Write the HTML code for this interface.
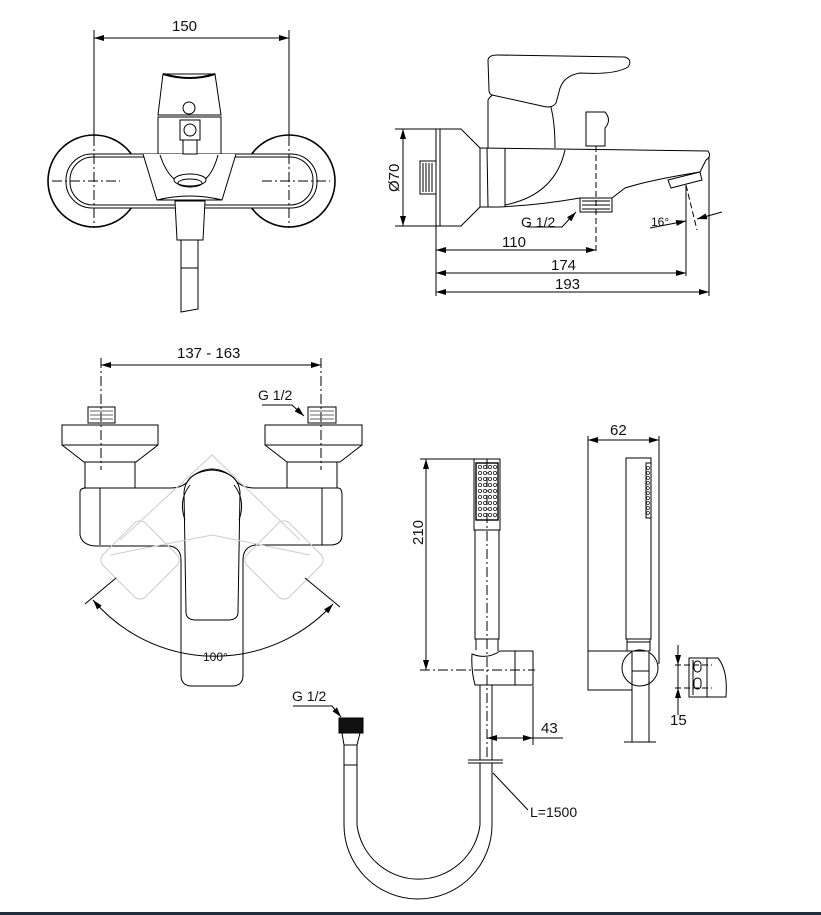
<!DOCTYPE html>
<html><head><meta charset="utf-8"><style>
html,body{margin:0;padding:0;background:#fff}
svg{display:block}
text{font-family:"Liberation Sans",sans-serif;fill:#111}
</style></head><body>
<svg width="821" height="915" viewBox="0 0 821 915" xmlns="http://www.w3.org/2000/svg">
<defs>
<marker id="a" viewBox="0 0 10 6" refX="10" refY="3" markerWidth="10" markerHeight="6" orient="auto-start-reverse" markerUnits="userSpaceOnUse"><path d="M0,0L10,3L0,6z" fill="#000"/></marker>
</defs>
<g fill="none" stroke="#000" stroke-width="1">
<line x1="94" y1="30" x2="94" y2="136"/><line x1="289" y1="30" x2="289" y2="136"/>
<line x1="94" y1="38" x2="289" y2="38" marker-start="url(#a)" marker-end="url(#a)"/>
<circle cx="94" cy="181" r="46" stroke-width="1.6"/>
<circle cx="289" cy="181" r="46" stroke-width="1.6"/>
<rect x="66" y="154" width="251" height="54" rx="26" fill="#fff"/>
<rect x="70" y="157" width="243" height="48" rx="23"/>
<path d="M143,154 L157,200 L222,200 L236,154" fill="#fff"/>
<path d="M160,155 Q170,185 190,185 Q210,185 218,155"/>
<path d="M157,200 Q190,192 222,200"/>
<ellipse cx="190" cy="180" rx="16" ry="6" fill="#fff"/><ellipse cx="190" cy="183" rx="12" ry="4"/>
<path d="M158,154 L158,117 L221,117 L221,154"/>
<path d="M158,115 L163,74 L215,74 L221,115 Z" fill="#fff"/>
<path d="M163,74 Q190,82 215,74" stroke-width="2"/>
<circle cx="189" cy="108" r="6"/>
<rect x="180" y="120" width="20" height="20"/><circle cx="190" cy="130" r="6"/>
<rect x="183" y="140" width="14" height="14"/>
<path d="M175,201 L205,201 L203,240 L177,240 Z" fill="#fff"/>
<path d="M181,240 L181,312 L198,309 L198,240"/>
<line x1="181" y1="268" x2="198" y2="268"/>
<g stroke-dasharray="10,3,2,3"><line x1="94" y1="136" x2="94" y2="228"/><line x1="289" y1="136" x2="289" y2="228"/>
<line x1="52" y1="181" x2="120" y2="181"/><line x1="262" y1="181" x2="330" y2="181"/></g>

<line x1="395" y1="129" x2="440" y2="129"/><line x1="395" y1="226" x2="440" y2="226"/>
<line x1="403" y1="129" x2="403" y2="226" marker-start="url(#a)" marker-end="url(#a)"/>

<rect x="420" y="161" width="16" height="33"/>
<path d="M423,163 L423,192 M426,163 L426,192 M429,163 L429,192 M432,163 L432,192"/>
<path d="M436,129 L461,129 L480,148 L480,207 L461,226 L436,226 Z"/>
<line x1="440" y1="129" x2="440" y2="226"/>
<path d="M480,148 L708,151 Q712,156 706,160 L700,172 Q650,180 625,188 L612,198 L580,198 Q540,205 500,207 L480,207"/>
<path d="M487,148 L488,207 M505,148 L505,207"/>
<path d="M565,150 Q555,195 505,205"/>
<path d="M488,148 L488,100 Q495,88 510,96 L550,104 Q555,120 555,148"/>
<path d="M488,60 Q489,55 497,55 L625,57 Q633,60 628,67 Q615,75 580,73 Q562,76 559,92 L556,103 Q552,109 542,106 L492,95 Q489,94 489,90 Z" fill="#fff"/>
<path d="M586,112 L605,112 Q612,120 605,128 L605,146 L586,146 Z"/>
<rect x="580" y="198" width="32" height="14"/>
<path d="M582,201 L610,201 M582,205 L610,205 M582,209 L610,209"/>
<path d="M668,180 L700,172 L702,180 L671,188 Z"/>
<line x1="436" y1="226" x2="436" y2="296"/>
<line x1="596" y1="146" x2="596" y2="252" stroke-dasharray="6,3"/>
<line x1="686" y1="185" x2="686" y2="276"/>
<line x1="709" y1="157" x2="709" y2="296"/>
<line x1="686" y1="185" x2="697" y2="230" stroke-dasharray="6,3"/>
<line x1="436" y1="250" x2="596" y2="250" marker-start="url(#a)" marker-end="url(#a)"/>
<line x1="436" y1="273" x2="686" y2="273" marker-start="url(#a)" marker-end="url(#a)"/>
<line x1="436" y1="292" x2="709" y2="292" marker-start="url(#a)" marker-end="url(#a)"/>
<path d="M527,227 L562,227 L576,212" marker-end="url(#a)"/>
<path d="M650,228 L686,221" marker-end="url(#a)"/>
<line x1="722" y1="212" x2="697" y2="219" marker-end="url(#a)"/>

<line x1="101" y1="365" x2="321" y2="365" marker-start="url(#a)" marker-end="url(#a)"/>
<line x1="101" y1="358" x2="101" y2="470" stroke-dasharray="10,3,2,3"/>
<line x1="321" y1="358" x2="321" y2="470" stroke-dasharray="10,3,2,3"/>
<rect x="88" y="407" width="27" height="16"/><rect x="308" y="407" width="28" height="16"/>
<path d="M90,411H113M90,415H113M90,419H113M310,411H334M310,415H334M310,419H334" stroke="#666"/>
<path d="M62,425 L158,425 L158,445 L136,462 L84,462 L62,445 Z"/>
<line x1="62" y1="445" x2="158" y2="445"/>
<path d="M265,425 L362,425 L362,445 L340,462 L287,462 L265,445 Z"/>
<line x1="265" y1="445" x2="362" y2="445"/>
<path d="M85,462 L85,488 M135,462 L135,488 M287,462 L287,488 M337,462 L337,488"/>
<path d="M84,488 L170,488 Q185,488 190,478 Q212,460 234,478 Q240,488 255,488 L338,488 Q342,488 342,495 L342,535 Q342,545 330,545 L255,545 Q243,547 243,560"/>
<path d="M80,492 Q80,488 86,488 M80,492 L80,535 Q82,545 95,546 L170,546 Q181,548 181,560"/>
<path d="M100,488 L100,545 M322,488 L322,545"/>
<path d="M181,560 L181,675 Q181,686 192,686 L232,686 Q243,686 243,675 L243,560"/>
<path d="M184,492 Q186,472 212,470 Q238,472 240,492 L238,612 Q238,620 228,620 L196,620 Q186,620 186,612 Z"/>
<path d="M185,520 Q178,500 190,485 M239,520 Q246,500 234,485"/>
<g stroke="#ccc"><path d="M120,540 L212,455 L300,540"/><path d="M110,555 L212,535 L310,555"/>
<rect x="110" y="530" width="60" height="60" rx="8" transform="rotate(-45 140 560)"/>
<rect x="254" y="530" width="60" height="60" rx="8" transform="rotate(45 284 560)"/></g>
<line x1="85" y1="604" x2="116" y2="578"/><line x1="340" y1="607" x2="305" y2="578"/>
<path d="M93,600 A160,160 0 0 0 333,604" marker-start="url(#a)" marker-end="url(#a)"/>
<path d="M262,405 L292,405 L304,416" marker-end="url(#a)"/>

<line x1="420" y1="459" x2="474" y2="459"/>
<line x1="426" y1="459" x2="426" y2="670" marker-start="url(#a)" marker-end="url(#a)"/>
<line x1="420" y1="670" x2="535" y2="670" stroke-dasharray="10,3,2,3"/>
<rect x="474" y="459" width="26" height="71"/>
<rect x="476" y="463" width="22" height="57" stroke-width="1.4"/>
<rect x="475" y="530" width="24" height="109"/>
<line x1="487" y1="459" x2="487" y2="760" stroke-dasharray="10,3,2,3"/>
<path d="M476,639 L476,650 M498,639 L498,651"/>
<path d="M472,654 Q487,660 500,651 L533,651 L533,685 L475,685 Q471,670 472,654 Z"/>
<line x1="515" y1="651" x2="515" y2="685"/>
<path d="M480,685 L480,760 M492,685 L492,760"/>
<line x1="533" y1="686" x2="533" y2="745"/>
<line x1="487" y1="738" x2="533" y2="738" marker-start="url(#a)" marker-end="url(#a)"/>
<line x1="533" y1="738" x2="563" y2="738"/>
<path d="M468,760 L503,760 M468,763 L503,763"/>
<path d="M480,763 L480,825 A62,62 0 0 1 357,825 L357,745 M492,763 L492,825 A74,74 0 0 1 344,825 L344,745"/>
<rect x="339" y="718" width="24" height="15" fill="#111"/>
<path d="M342,733 L344,745 L357,745 L360,733"/><line x1="344" y1="765" x2="357" y2="765"/>
<path d="M293,706 L332,706 L341,717" marker-end="url(#a)"/>
<line x1="493" y1="773" x2="528" y2="810"/>

<line x1="588" y1="440" x2="659" y2="440" marker-start="url(#a)" marker-end="url(#a)"/>
<line x1="588" y1="436" x2="588" y2="651"/><line x1="659" y1="436" x2="659" y2="664"/>
<rect x="626" y="458" width="25" height="181"/>
<rect x="646" y="463" width="5" height="55"/>
<path d="M627,639 L627,651 M650,639 L650,651 M627,642 L650,642"/>
<path d="M588,651 L632,651 M588,651 L588,690 L632,690"/>
<circle cx="640" cy="668" r="18" fill="#fff"/>
<rect x="632" y="651" width="17" height="20" fill="#fff"/>
<path d="M632,671 L632,742 M649,671 L649,742 M624,742 L656,742"/>
<line x1="678" y1="658" x2="678" y2="697"/>
<line x1="678" y1="645" x2="678" y2="665" marker-end="url(#a)"/>
<line x1="678" y1="715" x2="678" y2="688" marker-end="url(#a)"/>
<path d="M689,658 L718,658 Q728,670 726,697 L689,697 Z"/>
<line x1="707" y1="658" x2="707" y2="697"/><line x1="693" y1="660" x2="693" y2="695"/>
<rect x="694" y="661" width="7" height="11" rx="3.5"/><rect x="694" y="678" width="7" height="11" rx="3.5"/>
<g stroke-dasharray="6,3"><line x1="675" y1="665" x2="712" y2="665"/><line x1="675" y1="688" x2="712" y2="688"/></g>
</g>
<g fill="none" stroke="#222" stroke-width="0.8">
<g id="r"><circle cx="480" cy="467" r="1.6"/><circle cx="485" cy="467" r="1.6"/><circle cx="490" cy="467" r="1.6"/><circle cx="495" cy="467" r="1.6"/></g>
<use href="#r" y="6"/><use href="#r" y="12"/><use href="#r" y="18"/><use href="#r" y="24"/><use href="#r" y="30"/><use href="#r" y="36"/><use href="#r" y="42"/><use href="#r" y="48"/>
<g id="s"><circle cx="648" cy="468" r="1.5"/><circle cx="648" cy="473" r="1.5"/><circle cx="648" cy="478" r="1.5"/><circle cx="648" cy="483" r="1.5"/><circle cx="648" cy="488" r="1.5"/></g>
<use href="#s" y="25"/>
</g>
<rect x="0" y="912" width="821" height="3" fill="#1f2d3b"/>
<g font-size="15">
<text x="172" y="31">150</text>
<text x="0" y="0" transform="translate(399,192) rotate(-90)">Ø70</text>
<text x="521" y="227" font-size="14">G 1/2</text>
<text x="502" y="247">110</text>
<text x="551" y="270">174</text>
<text x="555" y="289">193</text>
<text x="651" y="226" font-size="12">16°</text>
<text x="177" y="358">137 - 163</text>
<text x="258" y="400" font-size="14">G 1/2</text>
<text x="203" y="661" font-size="12">100°</text>
<text x="0" y="0" transform="translate(423,545) rotate(-90)">210</text>
<text x="292" y="701" font-size="14">G 1/2</text>
<text x="541" y="733">43</text>
<text x="530" y="817" font-size="14">L=1500</text>
<text x="610" y="435">62</text>
<text x="670" y="725">15</text>
</g>
</svg>
</body></html>
